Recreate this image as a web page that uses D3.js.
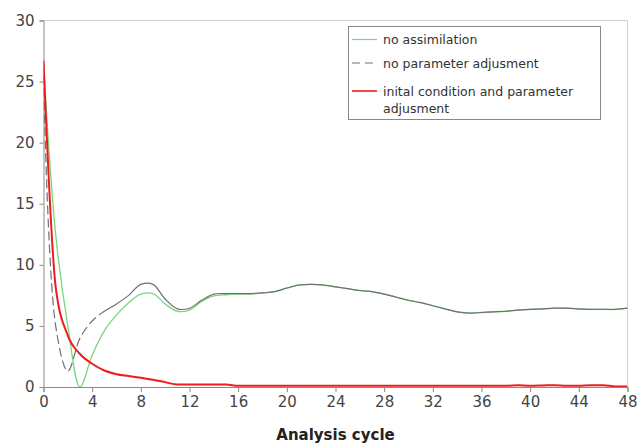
<!DOCTYPE html>
<html>
<head>
<meta charset="utf-8">
<script src="https://cdn.jsdelivr.net/npm/d3@7"></script>
<style>
  body { margin: 0; background: #fff; }
  svg { display: block; font-family: "DejaVu Sans", Verdana, sans-serif; }
</style>
</head>
<body>
<svg id="chart"></svg>
<script>
// analysis cycles 0..48
const cycles = d3.range(0, 49);

// values, one per cycle
const noAssimilation = [26.5, 12.5, 5.0, 0.0, 2.6, 4.6, 5.9, 6.9, 7.6, 7.65, 6.8, 6.2, 6.3, 7.0, 7.45, 7.55,
  7.6, 7.6, 7.7, 7.8, 8.1, 8.35, 8.4, 8.35, 8.2, 8.05, 7.9, 7.8, 7.6, 7.35, 7.1, 6.9, 6.65, 6.4, 6.15, 6.05,
  6.1, 6.15, 6.2, 6.3, 6.35, 6.4, 6.45, 6.45, 6.4, 6.35, 6.35, 6.35, 6.45];
const noParamAdj = [25.5, 5.0, 1.3, 4.0, 5.4, 6.2, 6.8, 7.5, 8.4, 8.4, 7.2, 6.4, 6.45, 7.1, 7.6, 7.65,
  7.65, 7.65, 7.7, 7.8, 8.1, 8.35, 8.4, 8.35, 8.2, 8.05, 7.9, 7.8, 7.6, 7.35, 7.1, 6.9, 6.65, 6.4, 6.15, 6.05,
  6.1, 6.15, 6.2, 6.3, 6.35, 6.4, 6.45, 6.45, 6.4, 6.35, 6.35, 6.35, 6.45];
const initAndParamAdj = [26.7, 8.2, 4.2, 2.7, 1.9, 1.35, 1.05, 0.9, 0.75, 0.6, 0.4, 0.2, 0.2, 0.2, 0.2, 0.2,
  0.1, 0.1, 0.1, 0.1, 0.1, 0.1, 0.1, 0.1, 0.1, 0.1, 0.1, 0.1, 0.1, 0.1, 0.1, 0.1, 0.1, 0.1, 0.1, 0.1,
  0.1, 0.1, 0.1, 0.15, 0.1, 0.12, 0.15, 0.1, 0.1, 0.15, 0.15, 0.05, 0.05];

const xTicks = d3.range(0, 49, 4);
const yTicks = [0, 5, 10, 15, 20, 25, 30];
const legendLabels = [["no assimilation"], ["no parameter adjusment"], ["inital condition and parameter", "adjusment"]];

const width = 639, height = 445;
const margin = {left: 43.5, right: 11.5, top: 20.5, bottom: 58};

const svg = d3.select("#chart").attr("width", width).attr("height", height);

const x = d3.scaleLinear().domain([0, 48]).range([margin.left, width - margin.right]);
const y = d3.scaleLinear().domain([0, 30]).range([height - margin.bottom, margin.top]);

// plot area frame (top and right, light)
svg.append("path")
    .attr("d", `M${x(0)},${y(30)}H${x(48)}V${y(0)}`)
    .attr("fill", "none").attr("stroke", "#cfcfcf").attr("stroke-width", 1);

// axes
const axisX = d3.axisBottom(x).tickValues(xTicks).tickSize(5).tickPadding(4);
const axisY = d3.axisLeft(y).tickValues(yTicks).tickSize(4).tickPadding(4);

const gx = svg.append("g").attr("transform", `translate(0,${y(0)})`).call(axisX);
const gy = svg.append("g").attr("transform", `translate(${x(0)},0)`).call(axisY);
[gx, gy].forEach(g => {
    g.select(".domain").attr("stroke", "#8a8a8a");
    g.selectAll(".tick line").attr("stroke", "#8a8a8a");
    g.selectAll(".tick text").attr("fill", "#444").style("font-size", "15px").style("font-family", "DejaVu Sans, sans-serif");
});
gy.selectAll(".tick text").attr("x", -9);

svg.append("text")
    .attr("x", (x(0) + x(48)) / 2).attr("y", 440)
    .attr("text-anchor", "middle")
    .style("font-size", "15px").style("font-weight", "bold").attr("fill", "#222")
    .text("Analysis cycle");

// lines (smoothed like the spreadsheet's curves; clipped at the axis)
svg.append("clipPath").attr("id", "plot")
    .append("rect").attr("x", x(0)).attr("y", y(30)).attr("width", x(48) - x(0)).attr("height", y(0) - y(30));

const line = (vals, curve) => d3.line()
    .x((d, i) => x(cycles[i]))
    .y(d => y(d))
    .curve(curve)(vals);

const series = [
    {vals: noAssimilation, stroke: "#7ad67a", width: 1.3, dash: null, curve: d3.curveCatmullRom.alpha(0.5)},
    {vals: noParamAdj, stroke: "#707070", width: 1.2, dash: "9,4", curve: d3.curveCatmullRom.alpha(0.5)},
    {vals: initAndParamAdj, stroke: "#ee1c1c", width: 2, dash: null, curve: d3.curveMonotoneX}
];

const paths = svg.append("g").attr("clip-path", "url(#plot)")
    .selectAll("path.series").data(series).join("path")
    .attr("class", "series")
    .attr("d", d => line(d.vals, d.curve))
    .attr("fill", "none")
    .attr("stroke", d => d.stroke)
    .attr("stroke-width", d => d.width);

// the dashed series only shows its dashes over the first few cycles, then runs solid
paths.filter(d => d.dash).each(function(d) {
    const total = this.getTotalLength();
    const xEnd = x(4.6);
    let lo = 0, hi = total;
    for (let k = 0; k < 30; k++) {
        const mid = (lo + hi) / 2;
        if (this.getPointAtLength(mid).x < xEnd) lo = mid; else hi = mid;
    }
    const pattern = [];
    let run = 0;
    while (run + 13 < lo) { pattern.push(9, 4); run += 13; }
    pattern.push(total + 10, 0);
    d3.select(this).attr("stroke-dasharray", pattern.join(","));
});

// legend
const lg = svg.append("g");
lg.append("rect").attr("x", 348.5).attr("y", 26.5).attr("width", 252).attr("height", 93)
    .attr("fill", "#fff").attr("stroke", "#888");
const rowsY = [39.5, 63, 91];
series.forEach((s, i) => {
    lg.append("line")
        .attr("x1", 352).attr("x2", 377).attr("y1", rowsY[i]).attr("y2", rowsY[i])
        .attr("stroke", s.stroke).attr("stroke-width", i === 2 ? 1.6 : 1.2)
        .attr("stroke-dasharray", s.dash ? "8,5" : null);
    legendLabels[i].forEach((t, k) => {
        lg.append("text")
            .attr("x", 383).attr("y", rowsY[i] + 4.5 + k * 17)
            .style("font-size", "12.5px").attr("fill", "#333")
            .text(t);
    });
});
</script>
</body>
</html>
